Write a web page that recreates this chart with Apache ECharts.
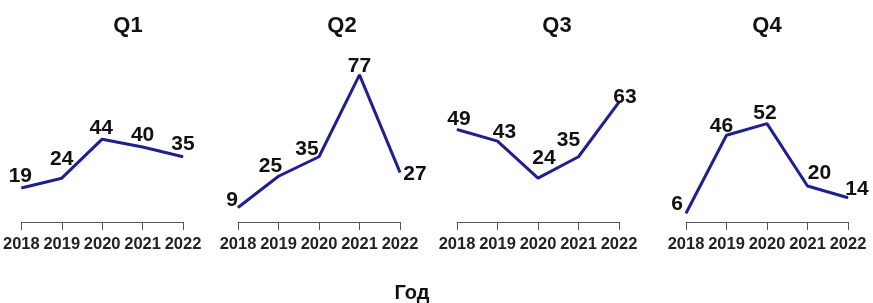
<!DOCTYPE html>
<html>
<head>
<meta charset="utf-8">
<script src="https://cdn.jsdelivr.net/npm/echarts@6/dist/echarts.min.js"></script>
<style>
  html, body { margin: 0; padding: 0; background: #fff; }
  #main { width: 873px; height: 303px; }
</style>
</head>
<body>
<div id="main"></div>
<script>
// data
var years = ['2018', '2019', '2020', '2021', '2022'];
var panelNames = ['Q1', 'Q2', 'Q3', 'Q4'];
var q1 = [19, 24, 44, 40, 35];
var q2 = [9, 25, 35, 77, 27];
var q3 = [49, 43, 24, 35, 63];
var q4 = [6, 46, 52, 20, 14];
var xTitle = 'Год';

// layout / styling
var panelLeft = [21, 238, 457, 686];
var titleCenter = [123, 337, 552, 762];
var labelOffsets = [
    [[-1, -12], [0, -19], [-1, -11], [0, -12], [0, -13]],
    [[-6, -7], [-8, -10], [-12, -8], [0, -9], [15, 2]],
    [[2, -10], [7, -9], [6, -20], [-10, -17], [6, -5]],
    [[-9, -9], [-5, -9], [-2, -10], [12, -13], [9, -8]]
];

var chart = echarts.init(document.getElementById('main'), null, { renderer: 'canvas' });
var allSeries = [q1, q2, q3, q4];
var font = 'Liberation Sans, Arial, sans-serif';

var grids = [], xAxes = [], yAxes = [], series = [], titles = [];
for (var i = 0; i < 4; i++) {
    grids.push({ left: panelLeft[i], top: 69, width: 162, height: 156 });
    xAxes.push({
        type: 'category', gridIndex: i, data: years, boundaryGap: false,
        offset: -3,
        axisLine: { lineStyle: { color: '#555', width: 1 } },
        axisTick: { length: 8, lineStyle: { color: '#555' } },
        axisLabel: { fontFamily: font, fontSize: 16.5, fontWeight: 'bold', color: '#222', margin: 14, interval: 0 }
    });
    yAxes.push({ type: 'value', gridIndex: i, min: 0, max: 80, show: false, splitLine: { show: false } });
    var items = allSeries[i].map(function (v, j) {
        return { value: v, label: { offset: labelOffsets[i][j] } };
    });
    series.push({
        type: 'line', xAxisIndex: i, yAxisIndex: i, data: items,
        symbol: 'circle', symbolSize: 1, showSymbol: true,
        lineStyle: { color: '#1f1f8f', width: 3 },
        itemStyle: { color: '#1f1f8f' },
        label: {
            show: true, position: 'inside', fontFamily: font, fontSize: 21,
            fontWeight: 'bold', color: '#111'
        },
        emphasis: { disabled: true },
        animation: false
    });
    titles.push({
        text: panelNames[i], left: titleCenter[i], top: 10, textAlign: 'center',
        textStyle: { fontFamily: font, fontSize: 22, fontWeight: 'bold', color: '#111' }
    });
}
titles.push({
    text: xTitle, left: 407, top: 278, textAlign: 'center',
    textStyle: { fontFamily: font, fontSize: 20, fontWeight: 'bold', color: '#111' }
});

chart.setOption({
    backgroundColor: '#fff',
    animation: false,
    title: titles,
    grid: grids,
    xAxis: xAxes,
    yAxis: yAxes,
    series: series
});
window.addEventListener('resize', chart.resize);
</script>
</body>
</html>
